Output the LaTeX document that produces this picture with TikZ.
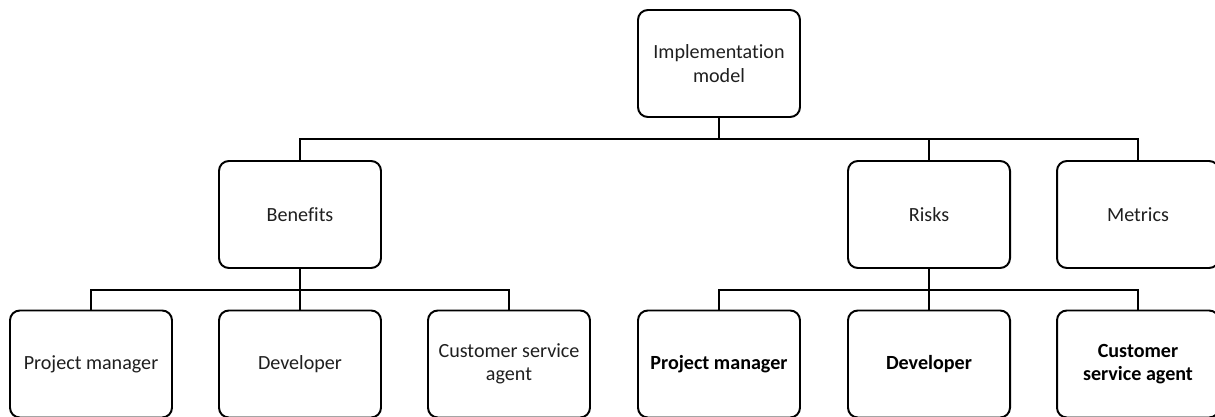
\documentclass[tikz,border=0pt]{standalone}
\usepackage{fontspec}
\setmainfont{Carlito}[Ligatures=NoCommon]
\usepackage{tikz}

\begin{document}
\begin{tikzpicture}[
  box/.style={draw, rounded corners=7pt, line width=1.4pt, fill=white, text=black!88, minimum width=4.05cm, minimum height=2.675cm, align=center, font=\fontsize{14.3}{16.5}\selectfont, inner sep=2pt},
  boldbox/.style={box, text=black, font=\fontsize{14.3}{16.5}\selectfont\bfseries},
  link/.style={line width=1.4pt}
]
\useasboundingbox (0,0) rectangle (30.375,-10.425);

% Wurzel
\node[box] (impl) at (17.975,-1.5875) {Implementation\\model};

% Zweite Ebene
\node[box] (benefits) at (7.5,-5.3625)   {Benefits};
\node[box] (risks)    at (23.225,-5.3625) {Risks};
\node[box] (metrics)  at (28.45,-5.3625)  {Metrics};

% Dritte Ebene, links
\node[box] (benpm)  at (2.275,-9.1)  {Project manager};
\node[box] (bendev) at (7.5,-9.1)    {Developer};
\node[box] (bencsa) at (12.725,-9.1) {Customer service\\agent};

% Dritte Ebene, rechts
\node[boldbox] (riskpm)  at (17.975,-9.1) {Project manager};
\node[boldbox] (riskdev) at (23.225,-9.1) {Developer};
\node[boldbox] (riskcsa) at (28.45,-9.1)  {Customer\\service agent};

% Sammelleitungen
\coordinate (bus1) at (0,-3.475);
\coordinate (bus2) at (0,-7.25);

% Verbindungen
\draw[link] (impl.south) -- (impl.south |- bus1);
\draw[link] (benefits.north) |- (metrics.north |- bus1) -- (metrics.north);
\draw[link] (risks.north) -- (risks.north |- bus1);

\draw[link] (benefits.south) -- (bendev.north);
\draw[link] (benpm.north) |- (bencsa.north |- bus2) -- (bencsa.north);

\draw[link] (risks.south) -- (riskdev.north);
\draw[link] (riskpm.north) |- (riskcsa.north |- bus2) -- (riskcsa.north);
\end{tikzpicture}
\end{document}
